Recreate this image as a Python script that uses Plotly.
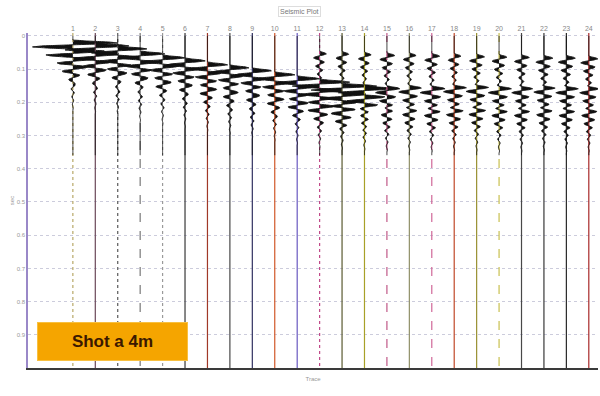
import numpy as np
import plotly.graph_objects as go

# ---------------- data ----------------
trace_numbers = list(range(1, 25))
trace_labels = [str(n) for n in trace_numbers]

# strong (direct) arrival time per trace, seconds, and its amplitude (in trace spacings)
direct_time = [0.012, 0.021, 0.030, 0.045, 0.057, 0.066, 0.078, 0.087, 0.096, 0.108,
               0.120, 0.130, 0.142, 0.150, 0.150, 0.148, 0.150, 0.147, 0.146, 0.150,
               0.150, 0.148, 0.150, 0.150]
direct_amp = [2.0, 1.5, 1.3, 1.1, 1.0, 0.9, 0.9, 0.85, 0.85, 0.9,
              1.0, 1.4, 1.5, 1.3, 0.55, 0.5, 0.55, 0.5, 0.5, 0.5,
              0.45, 0.5, 0.5, 0.45]
# early refracted arrivals (far traces)
early_time = [None, None, None, None, None, None, None, None, None, None,
              None, 0.045, 0.046, 0.048, 0.050, 0.050, 0.052, 0.052, 0.054, 0.055,
              0.056, 0.058, 0.058, 0.060]
early_amp = [0, 0, 0, 0, 0, 0, 0, 0, 0, 0,
             0, 0.3, 0.3, 0.3, 0.35, 0.3, 0.35, 0.3, 0.35, 0.35,
             0.35, 0.4, 0.4, 0.4]
# later coda events
late_time = [0.090, 0.100, 0.110, 0.125, 0.135, 0.145, 0.155, 0.165, 0.175, 0.185,
             0.195, 0.205, 0.210, 0.212, 0.215, 0.215, 0.218, 0.216, 0.215, 0.218,
             0.218, 0.216, 0.218, 0.218]
late_amp = [0.22, 0.22, 0.22, 0.22, 0.22, 0.22, 0.25, 0.25, 0.25, 0.25,
            0.25, 0.3, 0.3, 0.3, 0.3, 0.3, 0.3, 0.3, 0.3, 0.3,
            0.3, 0.3, 0.3, 0.3]

# ringing source wavelet, sampled every 3 ms
wavelet = [0, 0.3, 0.8, 1.0, 0.6, -0.1, -0.7, -0.9, -0.6, -0.1, 0.4, 0.7, 0.6, 0.2,
           -0.3, -0.6, -0.5, -0.2, 0.2, 0.45, 0.4, 0.1, -0.2, -0.35, -0.3, -0.05,
           0.2, 0.3, 0.2, 0.0, -0.15, -0.22, -0.15, 0.0, 0.12, 0.16, 0.1, 0.0,
           -0.08, -0.1, -0.06, 0.0, 0.05, 0.06, 0.03, 0.0]
wavelet_dt = 0.003

line_colors = ['#b8a868', '#6a4858', '#585858', '#787878', '#9a9a9a', '#383838',
               '#a03828', '#484848', '#303060', '#d05828', '#6858c0', '#c04888',
               '#5a5a30', '#a8a028', '#c05888', '#909068', '#d06898', '#c04828',
               '#989030', '#c8c050', '#484848', '#383838', '#282828', '#a82828']
line_dashes = ['dot', 'solid', 'dot', 'dash', 'dot', 'solid',
               'solid', 'solid', 'solid', 'solid', 'solid', 'dot',
               'solid', 'solid', 'dash', 'solid', 'dash', 'solid',
               'solid', 'dash', 'solid', 'solid', 'solid', 'solid']

y_tick_vals = [0, 0.1, 0.2, 0.3, 0.4, 0.5, 0.6, 0.7, 0.8, 0.9]
y_tick_text = ['0', '0.1', '0.2', '0.3', '0.4', '0.5', '0.6', '0.7', '0.8', '0.9']

# ---------------- build figure ----------------
t = np.arange(0.0, 0.36, 0.001)
wl_t = np.arange(len(wavelet)) * wavelet_dt
wl = np.array(wavelet)

fig = go.Figure()
for i, n in enumerate(trace_numbers):
    w = direct_amp[i] * np.interp(t - direct_time[i], wl_t, wl, left=0, right=0)
    w += late_amp[i] * np.interp(t - late_time[i], wl_t, wl, left=0, right=0)
    if early_time[i] is not None:
        w += early_amp[i] * np.interp(t - early_time[i], wl_t, wl, left=0, right=0)
    # coloured baseline
    fig.add_trace(go.Scatter(x=[n, n], y=[-0.009, 1.0], mode='lines',
                             line=dict(color=line_colors[i], width=1.2, dash=line_dashes[i]),
                             hoverinfo='skip', showlegend=False))
    # wiggle with area fill
    fig.add_trace(go.Scatter(x=n + w, y=t, mode='lines',
                             line=dict(color='#111111', width=0.9, shape='spline', smoothing=0.8),
                             fill='tonextx', fillcolor='#111111',
                             hoverinfo='skip', showlegend=False))

# invisible carrier for top trace-number axis
fig.add_trace(go.Scatter(x=trace_numbers, y=[0.5] * 24, xaxis='x2', mode='markers',
                         marker=dict(opacity=0), hoverinfo='skip', showlegend=False))

fig.update_layout(
    width=600, height=396,
    margin=dict(l=28, r=2, t=33, b=28),
    paper_bgcolor='white', plot_bgcolor='white',
    font=dict(family='Liberation Sans, Arial, sans-serif'),
    xaxis=dict(range=[-1.0, 24.41], showline=True, linecolor='#3a3a3a', linewidth=2,
               showticklabels=False, ticks='', showgrid=False, zeroline=False,
               title=dict(text='Trace', font=dict(size=6, color='#999999'), standoff=8)),
    xaxis2=dict(range=[-1.0, 24.41], overlaying='x', side='top', anchor='y',
                tickvals=trace_numbers, ticktext=trace_labels,
                tickfont=dict(size=7, color='#888888'), showline=False, showgrid=False,
                zeroline=False, ticks=''),
    yaxis=dict(range=[1.0, -0.009], tickvals=y_tick_vals, ticktext=y_tick_text,
               tickfont=dict(size=6, color='#999999'), showline=True,
               linecolor='#9a88c8', linewidth=1.5, showgrid=True, gridcolor='#ccccdc',
               griddash='dot', gridwidth=1, zeroline=False, ticks='',
               title=dict(text='sec', font=dict(size=6, color='#999999'), standoff=2)),
    annotations=[
        dict(text='Seismic Plot', xref='paper', yref='paper', x=0.477, y=1.063,
             xanchor='center', yanchor='middle',
             showarrow=False, font=dict(size=7, color='#777777'),
             bordercolor='#dddddd', borderwidth=1, borderpad=1),
        dict(text='<b>Shot a 4m</b>', xref='paper', yref='paper', x=0.149, y=0.078,
             xanchor='center', yanchor='middle',
             showarrow=False, width=147, height=35, bgcolor='#F5A500',
             bordercolor='#F8C040', borderwidth=1, borderpad=1,
             font=dict(size=17, color='#3b1800', family='Liberation Sans, Arial, sans-serif')),
    ],
)

fig.write_html('out.html')
